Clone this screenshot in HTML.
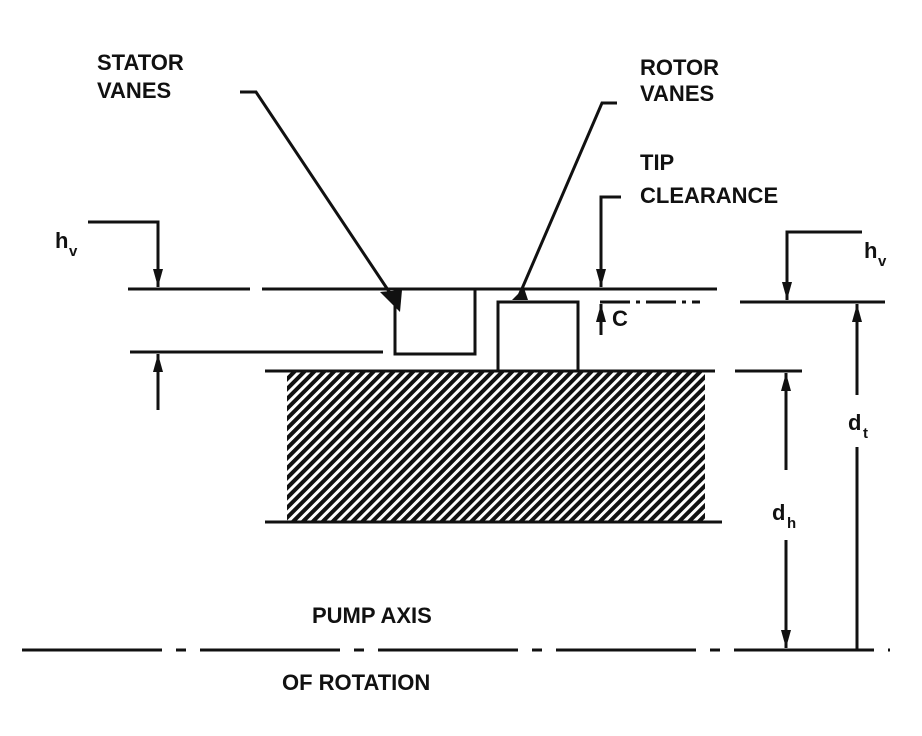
<!DOCTYPE html>
<html><head><style>
html,body{margin:0;padding:0;background:#fff;}
svg{display:block;}
text{font-family:"Liberation Sans",sans-serif;font-weight:bold;fill:#111;}
</style></head><body>
<svg width="922" height="736" viewBox="0 0 922 736" xmlns="http://www.w3.org/2000/svg">
<defs>
<pattern id="h" width="7" height="7" patternUnits="userSpaceOnUse" patternTransform="rotate(45)">
<rect width="7" height="7" fill="#fff"/>
<rect width="4" height="7" fill="#111"/>
</pattern>
<marker id="a" viewBox="0 0 18 12" refX="18" refY="6" markerWidth="18" markerHeight="12" orient="auto-start-reverse" markerUnits="userSpaceOnUse">
<path d="M0,1 L18,6 L0,11 z" fill="#111"/>
</marker>
</defs>
<g stroke="#111" stroke-width="3" fill="none">
<rect x="287" y="371" width="418" height="151" fill="url(#h)" stroke="none"/>
<line x1="265" y1="371" x2="715" y2="371"/>
<line x1="735" y1="371" x2="802" y2="371"/>
<line x1="265" y1="522" x2="722" y2="522"/>
<line x1="128" y1="289" x2="250" y2="289"/>
<line x1="262" y1="289" x2="717" y2="289"/>
<line x1="600" y1="302" x2="700" y2="302" stroke-dasharray="30 6 4 6"/>
<line x1="740" y1="302" x2="885" y2="302"/>
<line x1="130" y1="352" x2="383" y2="352"/>
<polyline points="395,289 395,354 475,354 475,289"/>
<polyline points="498,371 498,302 578,302 578,371"/>
<line x1="22" y1="650" x2="890" y2="650" stroke-dasharray="140 14 10 14"/>
<polyline points="240,92 256,92 392,296"/>
<polyline points="617,103 602,103 518,298"/>
<polyline points="621,197 601,197 601,287" marker-end="url(#a)"/>
<line x1="601" y1="335" x2="601" y2="304" marker-end="url(#a)"/>
<polyline points="88,222 158,222 158,287" marker-end="url(#a)"/>
<line x1="158" y1="410" x2="158" y2="354" marker-end="url(#a)"/>
<polyline points="862,232 787,232 787,300" marker-end="url(#a)"/>
<line x1="857" y1="395" x2="857" y2="304" marker-end="url(#a)"/>
<line x1="857" y1="447" x2="857" y2="650"/>
<line x1="786" y1="470" x2="786" y2="373" marker-end="url(#a)"/>
<line x1="786" y1="540" x2="786" y2="648" marker-end="url(#a)"/>
</g>
<polygon points="380,292 402,290 400,312" fill="#111"/>
<polygon points="512,300 524,288 528,300" fill="#111"/>
<g font-size="22">
<text x="97" y="70">STATOR</text>
<text x="97" y="98">VANES</text>
<text x="640" y="75">ROTOR</text>
<text x="640" y="101">VANES</text>
<text x="640" y="170">TIP</text>
<text x="640" y="203">CLEARANCE</text>
<text x="612" y="326">C</text>
<text x="312" y="623">PUMP AXIS</text>
<text x="282" y="690">OF ROTATION</text>
<text x="55" y="248">h</text><text x="69" y="256" font-size="15">v</text>
<text x="864" y="258">h</text><text x="878" y="266" font-size="15">v</text>
<text x="848" y="430">d</text><text x="863" y="438" font-size="15">t</text>
<text x="772" y="520">d</text><text x="787" y="528" font-size="15">h</text>
</g>
</svg>
</body></html>
